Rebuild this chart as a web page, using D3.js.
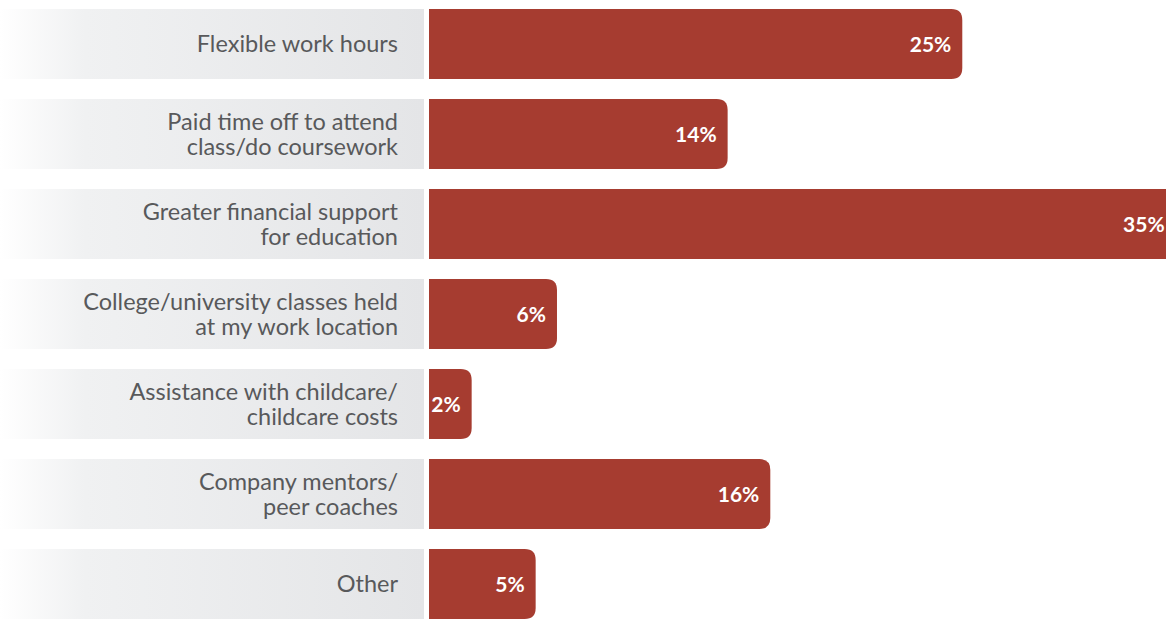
<!DOCTYPE html>
<html>
<head>
<meta charset="utf-8">
<script src="https://cdn.jsdelivr.net/npm/d3@7"></script>
<style>
  html, body { margin: 0; padding: 0; background: #fff; overflow: hidden; }
  svg { display: block; }
</style>
</head>
<body>
<svg id="chart" width="1166" height="620"></svg>
<script>
// Survey responses: what would help employees pursue further education
const categories = [
  ["Flexible work hours"],
  ["Paid time off to attend", "class/do coursework"],
  ["Greater financial support", "for education"],
  ["College/university classes held", "at my work location"],
  ["Assistance with childcare/", "childcare costs"],
  ["Company mentors/", "peer coaches"],
  ["Other"]
];
const values = [25, 14, 35, 6, 2, 16, 5];
const valueLabels = ["25%", "14%", "35%", "6%", "2%", "16%", "5%"];

const W = 1166, H = 620;
const svg = d3.select("#chart");
const FONT = "Lato, 'Open Sans', sans-serif";

const keys = categories.map((c, i) => i);
const y = d3.scaleBand().domain(keys).range([9, 619]).paddingInner(20 / 90).paddingOuter(0);
const x = d3.scaleLinear().domain([0, 35]).range([429, 1175.6]);

// Label panel gradient (fades in from the left edge)
const defs = svg.append("defs");
const grad = defs.append("linearGradient").attr("id", "panelGrad")
  .attr("x1", "0").attr("x2", "1").attr("y1", "0").attr("y2", "0");
grad.append("stop").attr("offset", "0").attr("stop-color", "#ffffff");
grad.append("stop").attr("offset", "0.2").attr("stop-color", "#f0f1f2");
grad.append("stop").attr("offset", "1").attr("stop-color", "#e4e5e7");

const rows = svg.selectAll("g.row").data(keys).join("g").attr("class", "row");

rows.append("rect")
  .attr("x", 0).attr("y", d => y(d))
  .attr("width", 424).attr("height", y.bandwidth())
  .attr("fill", "url(#panelGrad)");

// Bars: square on the left, rounded on the right
const r = 11;
function barPath(x0, x1, y0, h) {
  const rr = Math.min(r, (x1 - x0), h / 2);
  return `M${x0},${y0}H${x1 - rr}Q${x1},${y0} ${x1},${y0 + rr}V${y0 + h - rr}Q${x1},${y0 + h} ${x1 - rr},${y0 + h}H${x0}Z`;
}
rows.append("path")
  .attr("d", d => barPath(x(0), x(values[d]), y(d), y.bandwidth()))
  .attr("fill", "#a63c30");

// Category labels, right-aligned in the panel; one text element per line
const lineH = 25;
rows.each(function(d) {
  const lines = categories[d];
  const cy = y(d) + y.bandwidth() / 2;
  const start = cy - (lines.length - 1) * lineH / 2;
  d3.select(this).selectAll("text.cat").data(lines).join("text")
    .attr("class", "cat")
    .attr("x", 398)
    .attr("y", (l, i) => start + i * lineH + 8)
    .attr("text-anchor", "end")
    .attr("font-family", FONT)
    .attr("font-size", 23.5)
    .attr("fill", "#58595b")
    .text(l => l);
});

// Value labels inside the bar end
rows.append("text")
  .attr("x", d => x(values[d]) - 11)
  .attr("y", d => y(d) + y.bandwidth() / 2 + 7.5)
  .attr("text-anchor", "end")
  .attr("font-family", FONT)
  .attr("font-weight", 700)
  .attr("font-size", 21)
  .attr("fill", "#ffffff")
  .text(d => valueLabels[d]);
</script>
</body>
</html>
